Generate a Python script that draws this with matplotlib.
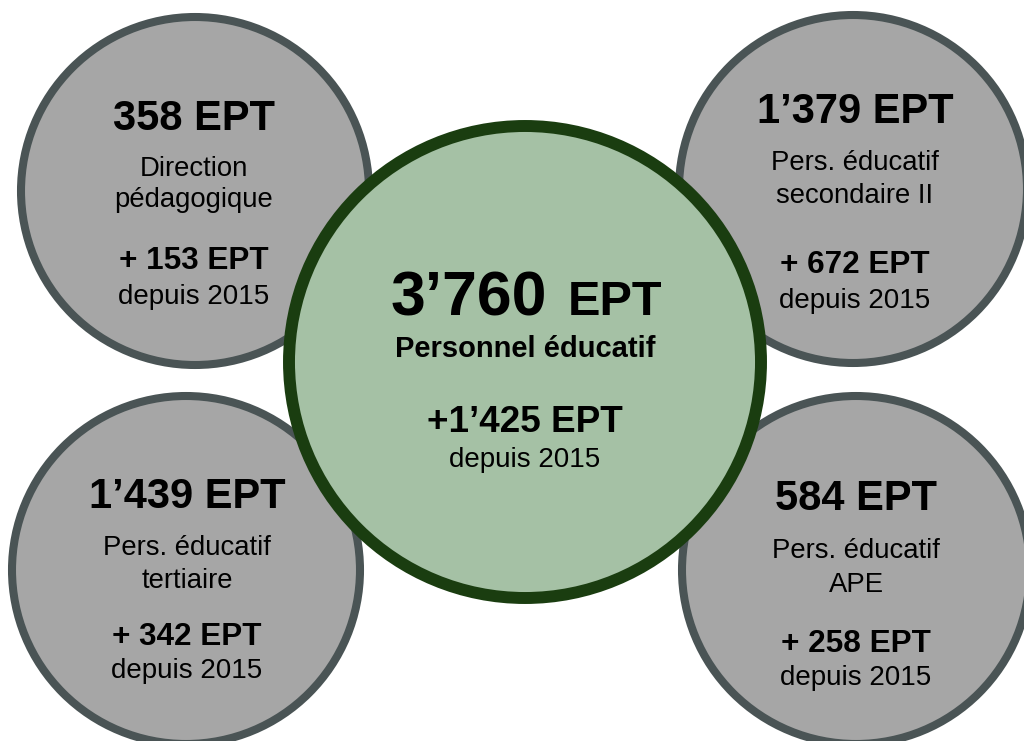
import matplotlib.pyplot as plt
from matplotlib.patches import Circle

plt.rcParams['font.family'] = ['Liberation Sans', 'DejaVu Sans']

# données (EPT)
total_ept = "3’760"
total_label = "Personnel éducatif"
total_increase = "+1’425 EPT"
since_label = "depuis 2015"

ept_values = ["358 EPT", "1’379 EPT", "1’439 EPT", "584 EPT"]
categories = ["Direction\npédagogique", "Pers. éducatif\nsecondaire II",
              "Pers. éducatif\ntertiaire", "Pers. éducatif\nAPE"]
increases = ["+ 153 EPT", "+ 672 EPT", "+ 342 EPT", "+ 258 EPT"]

# mise en page (pixels, origine en haut à gauche)
W, H = 1024, 741
small_centers = [(195, 191), (853, 189), (186, 570), (856, 570)]
small_radius = 174
big_center = (525, 362)
big_radius = 236

# lignes de base du texte pour chaque petit cercle
small_baselines = [
    (130, 176, 207, 269, 304),
    (123, 170, 203, 273, 308),
    (508, 555, 588, 645, 678),
    (510, 558, 592, 652, 685),
]
text_x = [194, 855, 187, 856]

fig = plt.figure(figsize=(W / 100, H / 100), dpi=100)
ax = fig.add_axes([0, 0, 1, 1])
ax.set_xlim(0, W)
ax.set_ylim(H, 0)
ax.set_aspect('equal')
ax.axis('off')

for (cx, cy) in small_centers:
    ax.add_patch(Circle((cx, cy), small_radius, facecolor='#A6A6A6',
                        edgecolor='#4A5455', linewidth=5.8, zorder=1))

for i in range(4):
    x = text_x[i]
    b = small_baselines[i]
    line1, line2 = categories[i].split("\n")
    ax.text(x, b[0], ept_values[i], ha='center', va='baseline',
            fontsize=30, fontweight='bold', color='black', zorder=3)
    ax.text(x, b[1], line1, ha='center', va='baseline', fontsize=19.8, zorder=3)
    ax.text(x, b[2], line2, ha='center', va='baseline', fontsize=19.8, zorder=3)
    ax.text(x, b[3], increases[i], ha='center', va='baseline',
            fontsize=22.7, fontweight='bold', zorder=3)
    ax.text(x, b[4], since_label, ha='center', va='baseline', fontsize=20, zorder=3)

# cercle central
ax.add_patch(Circle(big_center, big_radius, facecolor='#A5C1A5',
                    edgecolor='#1A3D10', linewidth=8.6, zorder=4))

ax.text(547, 315, total_ept, ha='right', va='baseline', fontsize=45,
        fontweight='bold', zorder=5)
ax.text(568, 315, "EPT", ha='left', va='baseline', fontsize=35,
        fontweight='bold', zorder=5)
ax.text(525, 357, total_label, ha='center', va='baseline', fontsize=21,
        fontweight='bold', zorder=5)
ax.text(525, 432, total_increase, ha='center', va='baseline', fontsize=26.6,
        fontweight='bold', zorder=5)
ax.text(525, 467, since_label, ha='center', va='baseline', fontsize=20, zorder=5)

plt.savefig('out.png', dpi=100)
